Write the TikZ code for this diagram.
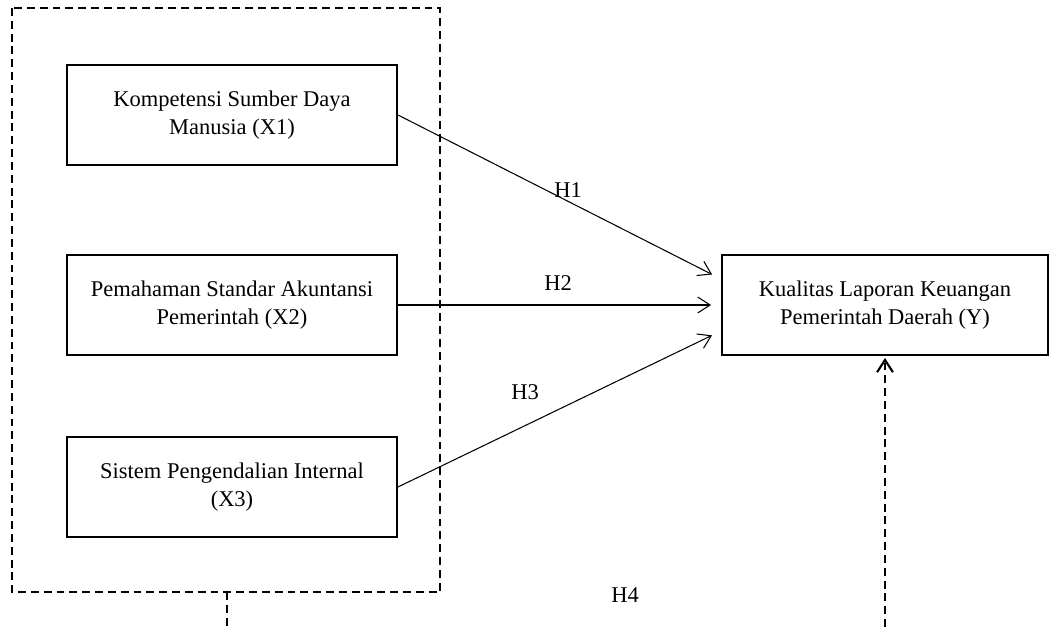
\documentclass[tikz,border=0pt]{standalone}
\usepackage{fontspec}
\setmainfont{Liberation Serif}
\usetikzlibrary{arrows.meta,calc}

\begin{document}
\begin{tikzpicture}[>={Straight Barb[length=7pt,width=9pt]},auto,
    var node/.style={draw,line width=1.1pt,minimum width=6.6cm,minimum height=2.0cm,align=center,font=\fontsize{12.8}{16}\selectfont},
    hyp/.style={font=\fontsize{12.8}{15}\selectfont},
    link/.style={->,line width=0.6pt,shorten >=0.2cm},
    group line/.style={line width=1.2pt,dash pattern=on 4.5pt off 2.8pt}]

    \useasboundingbox (0,0) rectangle (21.02,-12.54);

    % variabel independen
    \node (x1) [var node] at (4.64,-2.30) {Kompetensi Sumber Daya\\Manusia (X1)};
    \node (x2) [var node] at (4.64,-6.10) {Pemahaman Standar Akuntansi\\Pemerintah (X2)};
    \node (x3) [var node] at (4.64,-9.74) {Sistem Pengendalian Internal\\(X3)};

    % variabel dependen
    \node (y) [var node,minimum width=6.52cm] at (17.70,-6.10) {Kualitas Laporan Keuangan\\Pemerintah Daerah (Y)};

    % kotak simultan
    \draw[group line] (0.24,-0.16) rectangle (8.80,-11.84);
    \coordinate (g) at (4.54,-11.84);
    \coordinate (gend) at (4.54,-12.54);
    \coordinate (yend) at (17.70,-12.54);

    \node (h1) [hyp] at (11.36,-3.80) {H1};
    \node (h2) [hyp] at (11.16,-5.66) {H2};
    \node (h3) [hyp] at (10.50,-7.84) {H3};
    \node (h4) [hyp] at (12.50,-11.90) {H4};

    \path
    (x1.east) edge[link] ($(y.west)+(0,0.52)$)
    (x2.east) edge[link] (y.west)
    (x3.east) edge[link] ($(y.west)+(0,-0.52)$)
    ;

    \draw[group line] (g) -- (gend);
    \draw[group line,->,shorten >=0.04cm] (yend) -- (y.south);
\end{tikzpicture}
\end{document}
